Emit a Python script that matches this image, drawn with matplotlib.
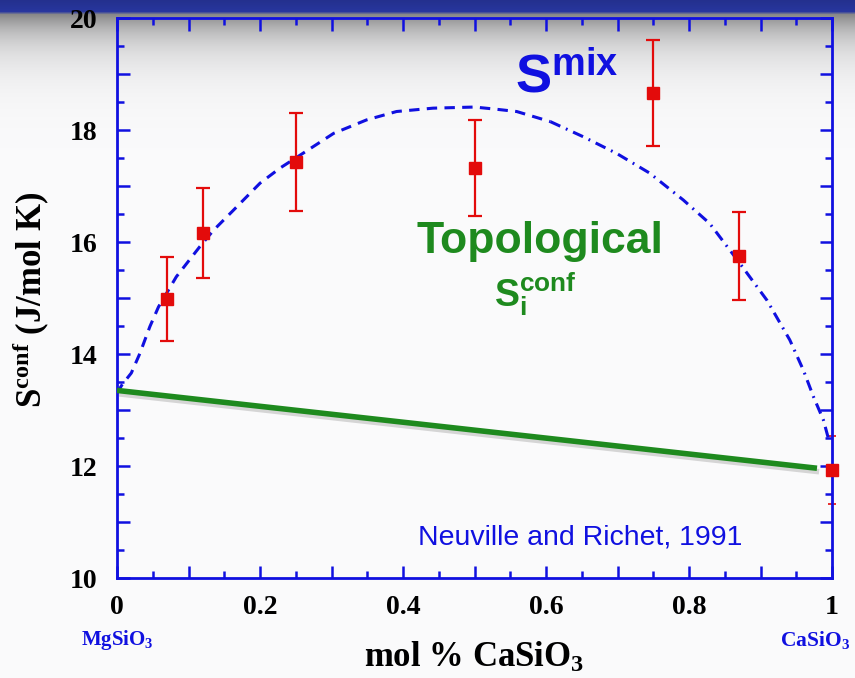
import numpy as np
import matplotlib
matplotlib.use("Agg")
import matplotlib.pyplot as plt
from matplotlib.ticker import MultipleLocator, FuncFormatter
import matplotlib.patheffects as pe

plt.rcParams['mathtext.fontset'] = 'custom'
plt.rcParams['mathtext.rm'] = 'Liberation Serif:bold'
plt.rcParams['mathtext.bf'] = 'Liberation Serif:bold'
plt.rcParams['mathtext.sf'] = 'Liberation Sans:bold'
plt.rcParams['mathtext.it'] = 'Liberation Serif:bold:italic'

# ---------------- data ----------------
meas_x = [0.07, 0.12, 0.25, 0.50, 0.75, 0.87, 1.00]
meas_y = [14.98, 16.16, 17.43, 17.32, 18.66, 15.75, 11.93]
meas_err = [0.75, 0.80, 0.87, 0.85, 0.94, 0.78, 0.60]

smix_x = [0.0, 0.007, 0.02, 0.032, 0.046, 0.058, 0.083, 0.116, 0.135, 0.163,
          0.2, 0.228, 0.256, 0.303, 0.349, 0.391, 0.442, 0.5, 0.531, 0.559,
          0.606, 0.652, 0.699, 0.745, 0.792, 0.829, 0.871, 0.909, 0.941,
          0.96, 0.974, 0.988, 0.995]
smix_y = [13.3, 13.45, 13.66, 14.01, 14.49, 14.84, 15.38, 15.92, 16.21, 16.57,
          17.05, 17.32, 17.55, 17.94, 18.18, 18.33, 18.39, 18.41, 18.37, 18.33,
          18.15, 17.88, 17.58, 17.23, 16.75, 16.33, 15.62, 14.96, 14.25,
          13.71, 13.24, 12.82, 12.49]

topo_x = [0.0, 0.979]
topo_y = [13.35, 11.96]

x_ticklabels = ["0", "0.2", "0.4", "0.6", "0.8", "1"]
y_ticklabels = ["10", "12", "14", "16", "18", "20"]

# ---------------- figure ----------------
fig = plt.figure(figsize=(8.55, 6.78), dpi=100)

# slide background gradient
H = 678
grad = np.ones((H, 1, 3))
top_blue = np.array([40, 54, 158]) / 255.0
for r in range(H):
    if r < 11:
        c = top_blue * (0.9 + 0.1 * r / 11)
    elif r < 14:
        t = (r - 11) / 3.0
        c = (1 - t) * top_blue + t * np.array([135, 135, 140]) / 255.0
    else:
        v = 251 - 116 * np.exp(-(r - 14) / 28.0)
        c = np.array([v, v, v + 1]) / 255.0
    grad[r, 0, :] = np.clip(c, 0, 1)
bg = fig.add_axes([0, 0, 1, 1], zorder=-10)
bg.imshow(grad, aspect='auto', extent=[0, 1, 0, 1])
bg.axis('off')

ax = fig.add_axes([117/855, 1 - 578/678, (832-117)/855, (578-18)/678])
ax.set_facecolor('none')
ax.set_xlim(0, 1)
ax.set_ylim(10, 20)

blue = '#1010e0'
red = '#e30b0b'
green = '#1e8a1e'

# S_mix curve (dashed, dash-dot toward the CaSiO3 end)
sx = np.array(smix_x)
sy = np.array(smix_y)
m1 = sx <= 0.61
m2 = sx >= 0.606
ax.plot(sx[m1], sy[m1], color=blue, lw=2.2, dashes=(3.4, 2.4), zorder=3)
ax.plot(sx[m2], sy[m2], color=blue, lw=2.2, dashes=(3.6, 2.0, 0.6, 2.0), zorder=3)

# topological line with soft shadow
ax.plot(topo_x, topo_y, color=green, lw=4.0, solid_capstyle='butt', zorder=3,
        path_effects=[pe.SimpleLineShadow(offset=(1.5, -2.5), shadow_color='gray', alpha=0.3),
                      pe.Normal()])

# measurements
ax.errorbar(meas_x[:-1], meas_y[:-1], yerr=meas_err[:-1], fmt='s', color=red,
            ms=8, mec=red, mfc=red, elinewidth=1.6, capsize=5, capthick=1.6, zorder=4)
ax.errorbar(meas_x[-1:], meas_y[-1:], yerr=meas_err[-1:], fmt='none', ecolor=red,
            elinewidth=0.8, capsize=3, capthick=1.2, zorder=1, clip_on=False)
ax.plot(meas_x[-1:], meas_y[-1:], 's', color=red, ms=8, zorder=5, clip_on=False)

# ticks
for s in ax.spines.values():
    s.set_color(blue)
    s.set_linewidth(2.0)
    s.set_zorder(2.5)
ax.xaxis.set_major_locator(MultipleLocator(0.1))
ax.xaxis.set_minor_locator(MultipleLocator(0.05))
ax.yaxis.set_major_locator(MultipleLocator(1))
ax.yaxis.set_minor_locator(MultipleLocator(0.5))

xt = {round(0.2 * i, 1): lab for i, lab in enumerate(x_ticklabels)}
yt = {10 + 2 * i: lab for i, lab in enumerate(y_ticklabels)}
ax.xaxis.set_major_formatter(FuncFormatter(lambda v, p: xt.get(round(v, 1), "")))
ax.yaxis.set_major_formatter(FuncFormatter(lambda v, p: yt.get(int(round(v)), "") if abs(v - round(v)) < 1e-6 else ""))

ax.tick_params(which='both', direction='in', top=True, right=True, color=blue, width=1.8)
ax.tick_params(which='major', length=9)
ax.tick_params(which='minor', length=5)
ax.tick_params(axis='x', which='major', pad=12)
ax.tick_params(axis='y', which='major', pad=14)
for lab in ax.get_xticklabels() + ax.get_yticklabels():
    lab.set_fontfamily('Liberation Serif')
    lab.set_fontweight('bold')
    lab.set_fontsize(20)
    lab.set_color('black')

# annotations
ax.text(0.5566, 18.66, r'$\mathsf{S}^{\mathsf{mix}}$', color=blue, fontsize=39,
        ha='left', va='baseline')
ax.text(0.5916, 15.80, 'Topological', color=green, fontsize=32, fontweight='bold',
        family='Liberation Sans', ha='center', va='baseline')
ax.text(0.527, 14.84, r'$\mathsf{S}_{\mathsf{i}}^{\mathsf{conf}}$', color=green, fontsize=27,
        ha='left', va='baseline')
ax.text(0.648, 10.73, 'Neuville and Richet, 1991', color=blue, fontsize=20.5,
        family='Liberation Sans', ha='center', va='center')

# axis labels
fig.text(474/855, 1 - 667/678, r'mol % CaSiO$_{\mathbf{3}}$', fontsize=25,
         family='Liberation Serif', fontweight='bold', ha='center', va='baseline')
fig.text(31/855, 1 - 300/678, r'S$^{\mathbf{conf}}$ (J/mol K)', fontsize=25,
         family='Liberation Serif', fontweight='bold', rotation=90,
         ha='center', va='center')
fig.text(117/855, 1 - 640/678, r'MgSiO$_{\mathbf{3}}$', fontsize=15, color=blue,
         family='Liberation Serif', fontweight='bold', ha='center', va='center')
fig.text(815/855, 1 - 640/678, r'CaSiO$_{\mathbf{3}}$', fontsize=15.5, color=blue,
         family='Liberation Serif', fontweight='bold', ha='center', va='center')

fig.savefig('out.png', dpi=100)
